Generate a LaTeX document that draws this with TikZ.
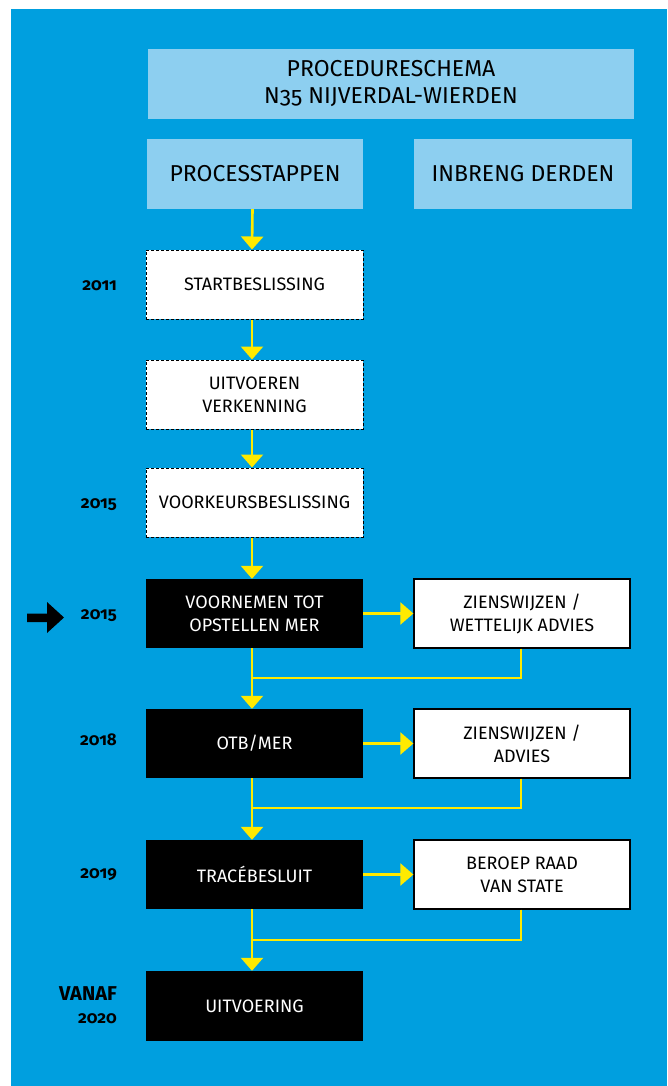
\documentclass[tikz,border=0pt]{standalone}
\usepackage{fontspec}
\setmainfont{Fira Sans}[Numbers={OldStyle,Proportional}]
\usetikzlibrary{arrows.meta}
\definecolor{bgblue}{HTML}{009FDF}
\definecolor{lightblue}{HTML}{8DCFF0}
\definecolor{yel}{HTML}{FFEA00}
\begin{document}
\begin{tikzpicture}[x=1pt,y=-1pt,
  hdr/.style={fill=lightblue, minimum height=70pt, font=\fontsize{23}{27}\selectfont, text=black, align=center, inner sep=0pt},
  boxtext/.style={minimum width=217pt, minimum height=69pt, align=center, font=\fontsize{18}{23}\selectfont, inner sep=0pt},
  dbox/.style={boxtext, draw=black, dash pattern=on 3pt off 2pt, fill=white, line width=1pt, text=black},
  bbox/.style={boxtext, fill=black, text=white},
  wbox/.style={boxtext, draw=black, line width=1.3pt, fill=white, text=black},
  flow/.style={draw=yel, line width=2.6pt, -{Triangle[width=22pt,length=13pt]}},
  back/.style={draw=yel, line width=2.6pt},
  year/.style={font=\bfseries\fontsize{17}{26}\selectfont, anchor=east, inner sep=0pt, align=right}]
\useasboundingbox (0,0) rectangle (667,1086);
\fill[white] (0,0) rectangle (667,1086);
\fill[bgblue] (11,9) rectangle (667,1086);
% headers
\node[hdr, minimum width=486pt] (title) at (391,84) {PROCEDURESCHEMA\\N35 NIJVERDAL-WIERDEN};
\node[hdr, minimum width=216pt] (proc) at (255,174) {PROCESSTAPPEN};
\node[hdr, minimum width=218pt] (inb) at (523,174) {INBRENG DERDEN};
% main column
\node[dbox] (s1) at (254.5,284.5) {STARTBESLISSING};
\node[dbox] (s2) at (254.5,394.5) {UITVOEREN\\VERKENNING};
\node[dbox] (s3) at (254.5,502.5) {VOORKEURSBESLISSING};
\node[bbox] (s4) at (254.5,613.5) {VOORNEMEN TOT\\OPSTELLEN MER};
\node[bbox] (s5) at (254.5,743.5) {OTB/MER};
\node[bbox] (s6) at (254.5,874.5) {TRACÉBESLUIT};
\node[bbox, minimum height=70pt] (s7) at (254.5,1006) {UITVOERING};
% right column
\node[wbox, minimum width=216pt] (r1) at (522,613.5) {ZIENSWIJZEN /\\WETTELIJK ADVIES};
\node[wbox, minimum width=216pt] (r2) at (522,743.5) {ZIENSWIJZEN /\\ADVIES};
\node[wbox, minimum width=216pt] (r3) at (522,874.5) {BEROEP RAAD\\VAN STATE};
% years
\node[year] (y1) at (117,286) {2011};
\node[year] (y2) at (117,505) {2015};
\node[year] (y3) at (117,616) {2015};
\node[year] (y4) at (117,740) {2018};
\node[year] (y5) at (117,875) {2019};
\node[year, font=\bfseries\fontsize{20}{26}\selectfont] (y6) at (117,994) {VANAF};
\node[year] (y7) at (117,1019) {2020};
% current marker arrow
\fill[black] (27,613.5) -- (47,613.5) -- (47,602) -- (64,617.5) -- (47,633) -- (47,622) -- (27,622) -- cycle;
% flow arrows
\draw[flow] ([xshift=-2.5pt]proc.south) -- ([xshift=-2.5pt]s1.north);
\draw[flow] ([xshift=-2.5pt]s1.south) -- ([xshift=-2.5pt]s2.north);
\draw[flow] ([xshift=-2.5pt]s2.south) -- ([xshift=-2.5pt]s3.north);
\draw[flow] ([xshift=-2.5pt]s3.south) -- ([xshift=-2.5pt]s4.north);
\draw[flow] ([xshift=-2.5pt]s4.south) -- ([xshift=-2.5pt]s5.north);
\draw[flow] ([xshift=-2.5pt]s5.south) -- ([xshift=-2.5pt]s6.north);
\draw[flow] ([xshift=-2.5pt]s6.south) -- ([xshift=-2.5pt]s7.north);
\draw[flow] (s4.east) -- (r1.west);
\draw[flow] (s5.east) -- (r2.west);
\draw[flow] (s6.east) -- (r3.west);
% feedback lines
\coordinate (j1) at (252,678);
\coordinate (j2) at (252,808);
\coordinate (j3) at (252,940);
\draw[back] ([xshift=-1pt]r1.south) |- (j1);
\draw[back] ([xshift=-1pt]r2.south) |- (j2);
\draw[back] ([xshift=-1pt]r3.south) |- (j3);
\end{tikzpicture}
\end{document}
